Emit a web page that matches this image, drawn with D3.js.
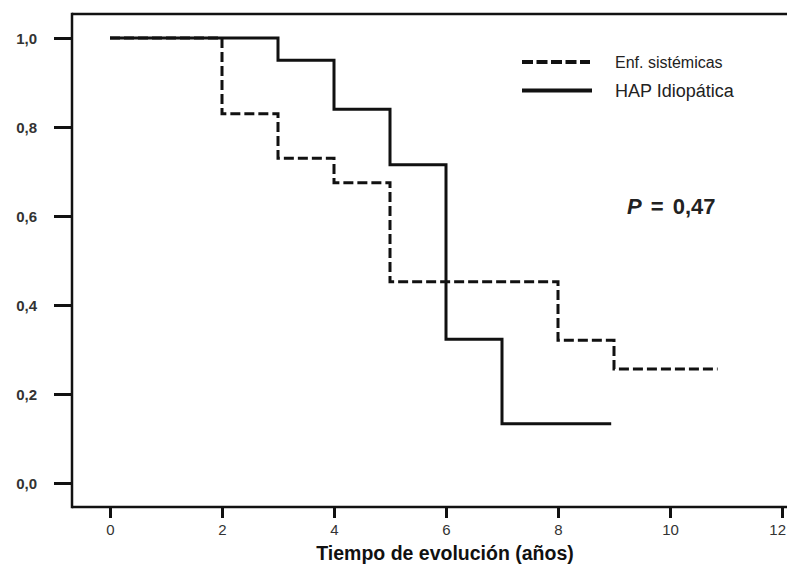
<!DOCTYPE html>
<html>
<head>
<meta charset="utf-8">
<script src="https://cdn.jsdelivr.net/npm/d3@7"></script>
<style>
  html, body { margin: 0; padding: 0; background: #fff; }
  svg { display: block; }
  text { font-family: "Liberation Sans", Arial, sans-serif; }
</style>
</head>
<body>
<svg id="chart" width="787" height="566"></svg>
<script>
// ---- data ----
const seriesNames = ["Enf. sistémicas", "HAP Idiopática"];
const enfTimes = [0, 2, 3, 4, 5, 8, 9, 10.85];
const enfSurv  = [1.0, 0.83, 0.73, 0.675, 0.452, 0.321, 0.256, 0.256];
const hapTimes = [0, 3, 4, 5, 6, 7, 8.95];
const hapSurv  = [1.0, 0.95, 0.84, 0.715, 0.323, 0.133, 0.133];
const xTicks = [0, 2, 4, 6, 8, 10, 12];
const yTicks = [0, 0.2, 0.4, 0.6, 0.8, 1.0];
const xTitle = "Tiempo de evolución (años)";
const pLabel = "P";
const pValue = "= 0,47";

// ---- layout ----
const svg = d3.select("#chart");
const W = 787;
const frame = { left: 72, top: 14, bottom: 507, right: 787 };
const x = d3.scaleLinear().domain([0, 12]).range([110, 782]);
const y = d3.scaleLinear().domain([0, 1]).range([483, 38]);
const fmt = v => d3.format(".1f")(v).replace(".", ",");

// frame lines
const g = svg.append("g").attr("stroke", "#111").attr("stroke-width", 2.5).attr("fill", "none");
g.append("line").attr("x1", frame.left).attr("x2", frame.left).attr("y1", frame.top - 1.2).attr("y2", frame.bottom + 1.2);
g.append("line").attr("x1", frame.left).attr("x2", frame.right).attr("y1", frame.top).attr("y2", frame.top);
g.append("line").attr("x1", frame.left).attr("x2", frame.right).attr("y1", frame.bottom).attr("y2", frame.bottom);

// y axis
const yAxis = svg.append("g")
  .attr("transform", `translate(${frame.left},0)`)
  .call(d3.axisLeft(y).tickValues(yTicks).tickFormat(fmt).tickSize(18).tickPadding(17));
yAxis.select(".domain").remove();
yAxis.selectAll(".tick line").attr("stroke", "#111").attr("stroke-width", 3);
yAxis.selectAll(".tick text")
  .attr("font-family", "'Liberation Sans', Arial, sans-serif")
  .attr("font-size", 15).attr("fill", "#333").attr("font-weight", "bold")
  .attr("dy", "0.35em");

// x axis
const xAxis = svg.append("g")
  .attr("transform", `translate(0,${frame.bottom})`)
  .call(d3.axisBottom(x).tickValues(xTicks).tickFormat(d => d).tickSize(11).tickPadding(6.5));
xAxis.select(".domain").remove();
xAxis.selectAll(".tick line").attr("stroke", "#111").attr("stroke-width", 3);
xAxis.selectAll(".tick text")
  .attr("font-family", "'Liberation Sans', Arial, sans-serif")
  .attr("font-size", 15).attr("fill", "#333");
// keep last label inside the page edge
xAxis.selectAll(".tick text").each(function() {
  const bb = this.getBBox();
  const tick = this.parentNode;
  const tx = +tick.getAttribute("transform").match(/translate\(([-\d.]+)/)[1];
  if (tx + bb.x + bb.width > W - 1) {
    d3.select(this).attr("text-anchor", "end").attr("x", (W - 1) - tx);
  }
});

// x title
svg.append("text")
  .attr("x", 445).attr("y", 560)
  .attr("text-anchor", "middle")
  .attr("font-size", 19.5).attr("font-weight", "bold").attr("fill", "#111")
  .text(xTitle);

// curves
const line = d3.line().x(d => x(d[0])).y(d => y(d[1])).curve(d3.curveStepAfter);
const hapData = hapTimes.map((t, i) => [t, hapSurv[i]]);
const enfData = enfTimes.map((t, i) => [t, enfSurv[i]]);

svg.append("path").datum(hapData)
  .attr("d", line).attr("fill", "none")
  .attr("stroke", "#111").attr("stroke-width", 3);

svg.append("path").datum(enfData)
  .attr("d", line).attr("fill", "none")
  .attr("stroke", "#111").attr("stroke-width", 3)
  .attr("stroke-dasharray", "10,4");

// legend
const lg = svg.append("g");
lg.append("line").attr("x1", 522).attr("x2", 590).attr("y1", 62).attr("y2", 62)
  .attr("stroke", "#111").attr("stroke-width", 4).attr("stroke-dasharray", "11,3.5");
lg.append("line").attr("x1", 522).attr("x2", 592).attr("y1", 90.5).attr("y2", 90.5)
  .attr("stroke", "#111").attr("stroke-width", 4);
lg.append("text").attr("x", 615).attr("y", 68).attr("font-size", 16).attr("fill", "#222")
  .text(seriesNames[0]);
lg.append("text").attr("x", 615).attr("y", 97).attr("font-size", 18).attr("fill", "#222")
  .text(seriesNames[1]);

// p value
const pt = svg.append("text").attr("x", 627).attr("y", 214)
  .attr("font-family", "'Open Sans', sans-serif")
  .attr("font-size", 22).attr("font-weight", "bold").attr("fill", "#222")
  .attr("word-spacing", 3);
pt.append("tspan").attr("font-style", "italic").text(pLabel);
pt.append("tspan").text(" " + pValue);
</script>
</body>
</html>
